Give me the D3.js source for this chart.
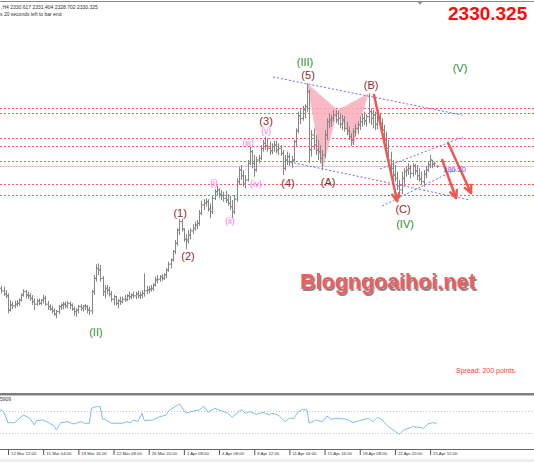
<!DOCTYPE html>
<html>
<head>
<meta charset="utf-8">
<script src="https://cdn.jsdelivr.net/npm/d3@7"></script>
<style>
  html, body { margin: 0; padding: 0; background: #fff; }
  svg { display: block; font-family: "Liberation Sans", Arial, sans-serif; }
</style>
</head>
<body>
<svg id="chart" width="534" height="462"></svg>
<script>
// XAUUSD H4, bars indexed from firstBar (bar 0 = 12 Mar 12:00)
const firstBar = -3;
const opens = [2184,2181,2177,2175,2158,2164,2163,2165,2166,2170,2176,2180,2176,2175,2172,2168,2165,2169,2166,2170,
  2172,2165,2162,2159,2157,2153,2156,2162,2164,2165,2163,2166,2164,2159,2156,2158,2162,2160,2163,2162,
  2158,2157,2180,2196,2208,2206,2196,2180,2184,2182,2177,2171,2174,2166,2169,2168,2171,2170,2175,2174,
  2176,2175,2177,2175,2176,2178,2181,2182,2183,2184,2188,2194,2195,2198,2196,2200,2206,2213,2218,2228,
  2238,2254,2264,2255,2243,2242,2248,2253,2256,2260,2262,2274,2284,2286,2288,2279,2276,2292,2300,2302,
  2297,2295,2292,2290,2286,2282,2276,2291,2312,2326,2319,2309,2314,2334,2348,2334,2326,2338,2340,2352,
  2358,2355,2352,2349,2354,2356,2350,2352,2346,2328,2338,2342,2336,2338,2360,2373,2391,2388,2398,2402,
  2420,2350,2368,2356,2350,2348,2340,2344,2368,2384,2386,2388,2392,2386,2388,2381,2386,2376,2373,2366,
  2362,2372,2376,2380,2384,2388,2385,2390,2396,2388,2392,2381,2386,2382,2374,2362,2352,2338,2328,2320,
  2316,2307,2302,2316,2324,2326,2328,2322,2331,2325,2319,2315,2312,2321,2326,2332,2338,2333,2330.617];
const highs = [2187,2186,2182,2178,2170,2168,2169,2170,2172,2178,2183,2182,2180,2178,2176,2172,2171,2172,2171,2176,
  2175,2169,2165,2163,2160,2158,2164,2166,2168,2168,2169,2168,2166,2162,2160,2164,2165,2164,2165,2164,
  2162,2182,2200,2213,2214,2212,2199,2188,2188,2186,2181,2176,2175,2171,2174,2174,2176,2177,2180,2178,
  2180,2180,2181,2180,2182,2202,2187,2187,2188,2190,2198,2200,2200,2201,2202,2208,2216,2220,2230,2242,
  2256,2267,2267,2256,2249,2254,2256,2261,2264,2266,2278,2289,2291,2292,2291,2286,2296,2303,2307,2304,
  2302,2300,2301,2297,2295,2290,2296,2316,2330,2332,2326,2320,2338,2354,2350,2344,2342,2344,2356,2362,
  2366,2364,2360,2358,2361,2361,2358,2356,2350,2344,2348,2346,2343,2362,2376,2396,2400,2403,2405,2430,
  2422,2374,2376,2368,2362,2356,2350,2374,2388,2394,2392,2398,2398,2397,2394,2392,2391,2384,2378,2370,
  2376,2381,2384,2390,2394,2396,2393,2418,2400,2398,2396,2392,2394,2388,2380,2372,2362,2348,2338,2332,
  2324,2314,2324,2328,2331,2334,2332,2334,2333,2332,2328,2324,2326,2331,2336,2344,2338,2336,2331.404];
const lows = [2178,2175,2172,2154,2156,2159,2160,2162,2163,2168,2174,2172,2171,2169,2164,2158,2163,2164,2164,2166,
  2163,2158,2157,2154,2151,2148,2153,2158,2159,2160,2160,2159,2157,2151,2150,2154,2157,2156,2158,2154,
  2152,2153,2176,2192,2200,2192,2175,2172,2177,2174,2168,2164,2163,2160,2164,2166,2168,2169,2170,2171,
  2172,2171,2172,2171,2172,2174,2177,2178,2180,2181,2186,2190,2192,2193,2194,2196,2204,2208,2216,2225,
  2235,2248,2252,2240,2231,2238,2243,2249,2253,2255,2259,2272,2278,2282,2276,2268,2273,2290,2295,2292,
  2290,2288,2286,2283,2278,2268,2273,2288,2308,2314,2306,2304,2312,2332,2328,2318,2324,2334,2338,2348,
  2350,2348,2344,2345,2348,2346,2344,2343,2320,2325,2332,2331,2328,2336,2355,2370,2381,2385,2388,2396,
  2334,2342,2350,2344,2338,2334,2326,2340,2362,2376,2378,2384,2382,2380,2376,2374,2372,2368,2362,2355,
  2356,2366,2369,2374,2378,2380,2378,2382,2380,2376,2374,2375,2378,2368,2354,2348,2332,2324,2314,2312,
  2302,2292,2297,2307,2318,2320,2316,2318,2320,2314,2312,2308,2306,2316,2324,2328,2328,2330,2328.702];
const closes = [2181,2177,2175,2158,2164,2163,2165,2166,2170,2176,2180,2176,2175,2172,2168,2165,2169,2166,2170,2172,
  2165,2162,2159,2157,2153,2156,2162,2164,2165,2163,2166,2164,2159,2156,2158,2162,2160,2163,2162,2158,
  2157,2180,2196,2208,2206,2196,2180,2184,2182,2177,2171,2174,2166,2169,2168,2171,2170,2175,2174,2176,
  2175,2177,2175,2176,2178,2181,2182,2183,2184,2188,2194,2195,2198,2196,2200,2206,2213,2218,2228,2238,
  2254,2264,2255,2243,2242,2248,2253,2256,2260,2262,2274,2284,2286,2288,2279,2276,2292,2300,2302,2297,
  2295,2292,2290,2286,2282,2276,2291,2312,2326,2319,2309,2314,2334,2348,2334,2326,2338,2340,2352,2358,
  2355,2352,2349,2354,2356,2350,2352,2346,2328,2338,2342,2336,2338,2360,2373,2391,2388,2398,2402,2420,
  2350,2368,2356,2350,2348,2340,2344,2368,2384,2386,2388,2392,2386,2388,2381,2386,2376,2373,2366,2362,
  2372,2376,2380,2384,2388,2385,2390,2396,2388,2392,2381,2386,2382,2374,2362,2352,2338,2328,2320,2316,
  2307,2302,2316,2324,2326,2328,2322,2331,2325,2319,2315,2312,2321,2326,2332,2338,2333,2334,2330.325];

const tickIdx = [0, 16, 32, 48, 64, 80, 96, 112, 128, 144, 160, 176, 192];
const tickText = ['12 Mar 12:00', '15 Mar 04:00', '19 Mar 16:00', '22 Mar 08:00', '26 Mar 20:00', '1 Apr 08:00',
  '4 Apr 08:00', '8 Apr 12:00', '11 Apr 04:00', '15 Apr 16:00', '18 Apr 08:00', '22 Apr 20:00', '25 Apr 12:00'];

const levels = [2400, 2394.5, 2364.5, 2355, 2337, 2309, 2296.5];
const bid = 2330.325;

// harmonic pattern points (bar index, price)
const harmIdx = [136, 143, 150, 157, 164];
const harmPrice = [2430, 2326, 2398, 2355, 2418];

// trend lines [idx1, price1, idx2, price2]
const channels = [
  [120.6, 2437.6, 206.6, 2392],
  [128.3, 2335.6, 210.2, 2290],
  [169.2, 2327.2, 207, 2365.6],
  [170.2, 2282.8, 207, 2330.8],
];
const arrows = [
  [166.5, 2416, 177, 2288.8],
  [197.5, 2338, 203.8, 2292.4],
  [200.2, 2358.4, 210.6, 2298.4],
];

const greenText = ['(III)', '(V)', '(II)', '(IV)'];
const greenIdx = [135.1, 205.6, 40, 180.6];
const greenPrice = [2455.6, 2448.4, 2131.6, 2261.2];
const redText = ['(1)', '(2)', '(3)', '(4)', '(5)', '(A)', '(B)', '(C)'];
const redIdx = [78.3, 81.9, 117.4, 127.4, 136.5, 145.6, 165.2, 179.7];
const redPrice = [2274.4, 2222.8, 2384.8, 2310.4, 2440, 2311.6, 2428, 2279.2];
const pinkText = ['(i)', '(ii)', '(iii)', '(iv)', '(v)'];
const pinkIdx = [93.7, 101, 109.2, 112.8, 117.4];
const pinkPrice = [2310.4, 2264.8, 2358.4, 2309.2, 2372.8];

// oscillator window
const rsiIdx = [-3.6, -2, 0, 3, 7, 10, 12, 13, 16, 19, 21, 22, 24, 27, 30, 33, 35, 37, 38, 40, 42, 43, 44, 47, 52, 54,
  56, 57, 59, 61, 62, 66, 69, 72, 73, 78, 81, 83, 87, 89, 91, 94, 97, 100, 102, 105, 106, 108, 110, 113, 116, 119,
  120, 123, 126, 128, 130, 132, 134, 136, 137, 140, 143, 145, 147, 150, 154, 157, 161, 164, 166, 168, 170, 173,
  177, 178, 180, 184, 187, 189, 191, 193, 195];
const rsiVal = [72.5, 68.2, 48.2, 48.2, 62.2, 56.2, 44, 51.8, 53.1, 47.1, 42.2, 34.9, 48.2, 50, 45.8, 50, 47.1, 47.1,
  74.4, 77.3, 77.3, 54.4, 54.4, 47.1, 47.1, 50, 48.2, 53.1, 50, 65.3, 51.8, 53.1, 59.1, 62.2, 70, 82.2, 65.3, 68.2,
  71.3, 78.5, 67.1, 74.4, 70, 65.3, 58, 68.2, 72.5, 65.3, 68.2, 63.5, 67.1, 62.2, 65.3, 62.2, 50, 56.2, 56.2, 68.2,
  72.5, 71.3, 47.1, 53.1, 50, 60.4, 54.4, 56.2, 54.4, 48.2, 53.1, 56.2, 50, 58, 54.4, 40.9, 30, 27.6, 34.9, 40.9,
  39.8, 38, 45.8, 48.2, 47.1];
const rsiLevels = [70, 30];

const W = 534, H = 462;
const svg = d3.select('#chart');

const x = d3.scaleLinear().domain([0, 192]).range([8, 430.1]);
const y = d3.scaleLinear().domain([2530, 2530 - 1.2 * 393]).range([0, 393]);
const yr = d3.scaleLinear().domain([70, 30]).range([410.7, 432.7]);

svg.append('rect').attr('width', W).attr('height', H).attr('fill', '#fff');

const defs = svg.append('defs');
defs.append('clipPath').attr('id', 'mainClip')
  .append('rect').attr('x', 0).attr('y', 3).attr('width', W).attr('height', 390);
defs.append('filter').attr('id', 'wmShadow').attr('x', '-5%').attr('y', '-20%').attr('width', '110%').attr('height', '150%')
  .append('feDropShadow').attr('dx', 1.5).attr('dy', 2).attr('stdDeviation', 0.6)
  .attr('flood-color', '#7a7a7a').attr('flood-opacity', 0.9);

const main = svg.append('g').attr('clip-path', 'url(#mainClip)');

// horizontal levels
main.selectAll('line.level').data(levels).join('line')
  .attr('class', 'level')
  .attr('x1', 0).attr('x2', W)
  .attr('y1', (d) => Math.round(y(d)) + 0.5).attr('y2', (d) => Math.round(y(d)) + 0.5)
  .attr('stroke', '#ff5a5a').attr('stroke-width', 1).attr('stroke-dasharray', '2,2');

main.append('line')
  .attr('x1', 0).attr('x2', W)
  .attr('y1', Math.round(y(bid)) + 0.5).attr('y2', Math.round(y(bid)) + 0.5)
  .attr('stroke', '#cfcfcf').attr('stroke-width', 1);

// harmonic triangles
const hp = harmIdx.map((d, k) => [x(d), y(harmPrice[k])]);
[[0, 1, 2], [2, 3, 4]].forEach((tri) => {
  main.append('polygon')
    .attr('points', tri.map((k) => hp[k].join(',')).join(' '))
    .attr('fill', '#f8aebb').attr('fill-opacity', 0.85);
});

// OHLC bars
const bars = opens.map((o, k) => ({ i: firstBar + k, o, h: highs[k], l: lows[k], c: closes[k] }));
main.append('g').selectAll('path').data(bars).join('path')
  .attr('d', (d) => {
    const px = Math.round(x(d.i)) + 0.5;
    return `M${px},${y(d.h)}V${y(d.l)}M${px - 1.5},${y(d.o)}H${px}M${px},${y(d.c)}H${px + 1.5}`;
  })
  .attr('fill', 'none').attr('stroke', '#858585').attr('stroke-width', 1);

// channel lines
main.selectAll('line.chan').data(channels).join('line')
  .attr('class', 'chan')
  .attr('x1', (d) => x(d[0])).attr('y1', (d) => y(d[1]))
  .attr('x2', (d) => x(d[2])).attr('y2', (d) => y(d[3]))
  .attr('stroke', '#6c6cf5').attr('stroke-width', 1).attr('stroke-dasharray', '2,2');

// arrows
const arrowG = main.append('g').attr('stroke', '#f0574f').attr('stroke-width', 2.5)
  .attr('fill', 'none').attr('stroke-linecap', 'round').attr('stroke-linejoin', 'round');
arrows.forEach((a) => {
  const x1 = x(a[0]), y1 = y(a[1]), x2 = x(a[2]), y2 = y(a[3]);
  const ang = Math.atan2(y2 - y1, x2 - x1);
  const len = 8, sp = 0.45;
  arrowG.append('line').attr('x1', x1).attr('y1', y1).attr('x2', x2).attr('y2', y2);
  arrowG.append('path').attr('d',
    `M${x2 - len * Math.cos(ang - sp)},${y2 - len * Math.sin(ang - sp)}L${x2},${y2}` +
    `L${x2 - len * Math.cos(ang + sp)},${y2 - len * Math.sin(ang + sp)}`);
});

// wave labels
function waveLabels(texts, idx, price, color, size) {
  main.append('g').selectAll('text').data(texts).join('text')
    .attr('x', (d, k) => x(idx[k])).attr('y', (d, k) => y(price[k]))
    .attr('dy', '0.36em').attr('text-anchor', 'middle')
    .attr('font-size', size).attr('fill', color)
    .text((d) => d);
}
waveLabels(greenText, greenIdx, greenPrice, '#2e8b2e', 11);
waveLabels(redText, redIdx, redPrice, '#8e2a2a', 11);
waveLabels(pinkText, pinkIdx, pinkPrice, '#ff6cf0', 8.5);

main.append('text').attr('x', 443).attr('y', 172).attr('font-size', 7.5)
  .attr('fill', '#5a5aff').text('186.20');

// watermark
main.append('text').attr('x', 300).attr('y', 289)
  .attr('font-size', 21.5).attr('font-weight', 'bold')
  .attr('fill', '#f25c5c').attr('filter', 'url(#wmShadow)')
  .text('Blogngoaihoi.net');

main.append('text').attr('x', 456).attr('y', 373).attr('font-size', 7)
  .attr('fill', '#ff3b3b').text('Spread: 200 points.');

// header
svg.append('line').attr('x1', 0).attr('x2', W).attr('y1', 1.5).attr('y2', 1.5)
  .attr('stroke', '#8a8a8a').attr('stroke-width', 1);
svg.append('path').attr('d', 'M417.5,2L422.5,2L420,5Z').attr('fill', '#9a9a9a');
svg.append('text').attr('x', 1).attr('y', 8.5).attr('font-size', 5).attr('fill', '#333')
  .text(',H4  2330.617 2331.404 2328.702 2330.325');
svg.append('text').attr('x', 0).attr('y', 15.5).attr('font-size', 5).attr('fill', '#333')
  .text('s 20 seconds left to bar end');
svg.append('text').attr('x', 448).attr('y', 20).attr('font-size', 19).attr('font-weight', 'bold')
  .attr('fill', '#ff0a0a').text('2330.325');

// separator + oscillator window
svg.append('rect').attr('x', 0).attr('y', 393).attr('width', W).attr('height', 2).attr('fill', '#7d7d7d');
svg.append('line').attr('x1', 0).attr('x2', W).attr('y1', 395.5).attr('y2', 395.5).attr('stroke', '#c4c4c4');
svg.append('text').attr('x', 0).attr('y', 401).attr('font-size', 5).attr('fill', '#333').text('5909');

svg.selectAll('line.rlev').data(rsiLevels).join('line')
  .attr('class', 'rlev')
  .attr('x1', 0).attr('x2', W).attr('y1', (d) => Math.round(yr(d)) + 0.5).attr('y2', (d) => Math.round(yr(d)) + 0.5)
  .attr('stroke', '#c8c8c8').attr('stroke-dasharray', '1,2');

const rsiLine = d3.line().x((d, k) => x(rsiIdx[k])).y((d) => yr(d));
svg.append('path').datum(rsiVal).attr('d', rsiLine)
  .attr('fill', 'none').attr('stroke', '#80bdf5').attr('stroke-width', 1);

// time axis
svg.append('line').attr('x1', 0).attr('x2', W).attr('y1', 449.5).attr('y2', 449.5)
  .attr('stroke', '#666').attr('stroke-width', 1);
const axis = d3.axisBottom(x).tickValues(tickIdx).tickFormat((d, k) => tickText[k])
  .tickSize(5).tickSizeOuter(0);
const gx = svg.append('g').attr('transform', 'translate(0,450)').call(axis);
gx.select('.domain').remove();
gx.selectAll('.tick line').attr('stroke', '#555');
gx.selectAll('.tick text')
  .attr('text-anchor', 'start').attr('x', 2.5).attr('y', 2).attr('dy', '0.71em')
  .attr('font-size', 4.3).attr('font-family', '"Liberation Sans", Arial, sans-serif').attr('fill', '#333');
svg.append('rect').attr('x', 0).attr('y', 459).attr('width', W).attr('height', 3).attr('fill', '#efefef');
</script>
</body>
</html>
